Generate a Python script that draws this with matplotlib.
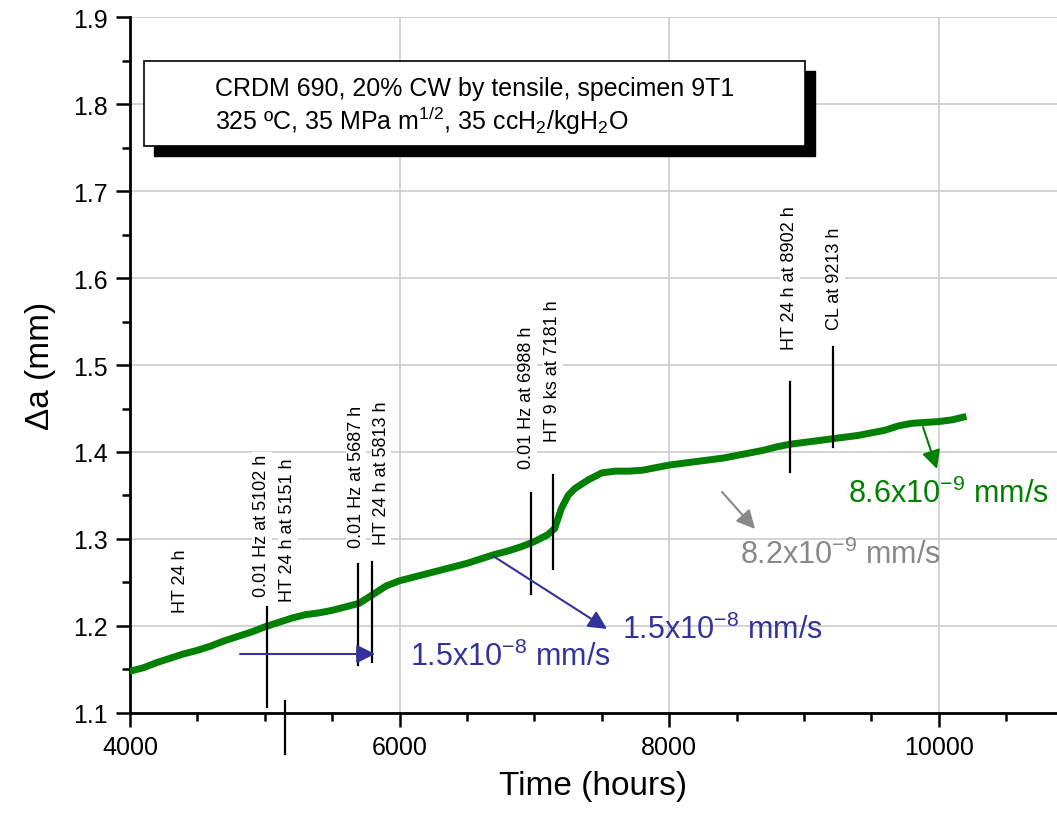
import matplotlib
matplotlib.use('Agg')
import matplotlib.pyplot as plt
from matplotlib.patches import Rectangle
from matplotlib.ticker import MultipleLocator

plt.rcParams['font.family'] = ['Liberation Sans', 'DejaVu Sans']
plt.rcParams['mathtext.fontset'] = 'custom'
plt.rcParams['mathtext.rm'] = 'Liberation Sans'
plt.rcParams['mathtext.it'] = 'Liberation Sans:italic'

# crack growth curve
time_h = [4000, 4100, 4200, 4300, 4400, 4500, 4600, 4700, 4800, 4900,
          5000, 5100, 5200, 5300, 5400, 5500, 5600, 5700, 5800, 5900,
          6000, 6100, 6200, 6300, 6400, 6500, 6600, 6700, 6800, 6900,
          7000, 7100, 7150, 7200, 7250, 7300, 7400, 7500, 7600, 7700,
          7800, 7900, 8000, 8100, 8200, 8300, 8400, 8500, 8600, 8700,
          8800, 8900, 9000, 9100, 9200, 9300, 9400, 9500, 9600, 9700,
          9800, 9900, 10000, 10100, 10180]
delta_a = [1.148, 1.152, 1.158, 1.163, 1.168, 1.172, 1.177, 1.183, 1.188, 1.193,
           1.199, 1.204, 1.209, 1.213, 1.215, 1.218, 1.222, 1.226, 1.236, 1.246,
           1.252, 1.256, 1.260, 1.264, 1.268, 1.272, 1.277, 1.282, 1.286, 1.291,
           1.297, 1.305, 1.312, 1.335, 1.350, 1.358, 1.368, 1.376, 1.378, 1.378,
           1.379, 1.382, 1.385, 1.387, 1.389, 1.391, 1.393, 1.396, 1.399, 1.402,
           1.406, 1.409, 1.411, 1.413, 1.415, 1.417, 1.419, 1.422, 1.425, 1.430,
           1.433, 1.434, 1.435, 1.437, 1.440]

# event markers: x, y bottom, y top
event_x = [5015, 5150, 5691, 5795, 6975, 7138, 8896, 9215]
event_y0 = [1.107, 1.053, 1.155, 1.159, 1.237, 1.266, 1.377, 1.406]
event_y1 = [1.222, 1.114, 1.271, 1.274, 1.353, 1.374, 1.480, 1.521]

# event labels
label_text = ['HT 24 h', '0.01 Hz at 5102 h', 'HT 24 h at 5151 h',
              '0.01 Hz at 5687 h', 'HT 24 h at 5813 h', '0.01 Hz at 6988 h',
              'HT 9 ks at 7181 h', 'HT 24 h at 8902 h', 'CL at 9213 h']
label_x = [4378, 4979, 5172, 5677, 5862, 6945, 7138, 8896, 9230]
label_y = [1.216, 1.2345, 1.229, 1.291, 1.294, 1.3816, 1.4126, 1.518, 1.541]

# growth-rate annotations
rate_text = ['1.5x10$^{\\mathregular{-8}}$ mm/s', '1.5x10$^{\\mathregular{-8}}$ mm/s',
             '8.2x10$^{\\mathregular{-9}}$ mm/s', '8.6x10$^{\\mathregular{-9}}$ mm/s']
rate_color = ['#333399', '#333399', '#888888', '#008000']
rate_tx = [6077, 7650, 8525, 9326]
rate_ty = [1.1655, 1.1966, 1.2828, 1.3529]
arrow_x0 = [4816, 6693, 8392, 9883]
arrow_y0 = [1.1678, 1.2805, 1.354, 1.4287]
arrow_x1 = [5818, 7539, 8637, 9987]
arrow_y1 = [1.1678, 1.1966, 1.3115, 1.3805]

fig = plt.figure(figsize=(10.57, 8.20), dpi=100)
ax = fig.add_axes([0.123, 0.1293, 0.877, 0.8487])

ax.plot(time_h, delta_a, color='#008000', lw=5, zorder=3)

for x, y0, y1 in zip(event_x, event_y0, event_y1):
    ax.plot([x, x], [y0, y1], color='black', lw=1.6, zorder=4, clip_on=False)

for t, x, y in zip(label_text, label_x, label_y):
    ax.text(x, y, t, rotation=90, ha='center', va='bottom', fontsize=13,
            zorder=5, bbox=dict(facecolor='white', edgecolor='none', pad=1))

for t, c, tx, ty, x0, y0, x1, y1 in zip(rate_text, rate_color, rate_tx, rate_ty,
                                        arrow_x0, arrow_y0, arrow_x1, arrow_y1):
    ax.annotate('', xy=(x1, y1), xytext=(x0, y0),
                arrowprops=dict(arrowstyle='-|>', color=c, lw=1.5,
                                mutation_scale=28, shrinkA=0, shrinkB=0),
                zorder=6)
    ax.text(tx, ty, t, color=c, fontsize=22, ha='left', va='center', zorder=6)

# header box with shadow
ax.add_patch(Rectangle((0.1457, 0.8085), 0.6254, 0.1037, transform=fig.transFigure,
                       facecolor='black', edgecolor='black', zorder=7, clip_on=False))
ax.add_patch(Rectangle((0.1362, 0.8207), 0.6254, 0.1037, transform=fig.transFigure,
                       facecolor='white', edgecolor='black', lw=1.2, zorder=8, clip_on=False))
fig.text(0.2034, 0.883, 'CRDM 690, 20% CW by tensile, specimen 9T1', fontsize=18, zorder=9)
fig.text(0.2034, 0.8415,
         '325 ºC, 35 MPa m$^{\\mathregular{1/2}}$, 35 ccH$_{\\mathregular{2}}$/kgH$_{\\mathregular{2}}$O',
         fontsize=18, zorder=9)

ax.set_xlim(4000, 10877)
ax.set_ylim(1.1, 1.9)
ax.xaxis.set_major_locator(MultipleLocator(2000))
ax.xaxis.set_minor_locator(MultipleLocator(500))
ax.yaxis.set_major_locator(MultipleLocator(0.1))
ax.yaxis.set_minor_locator(MultipleLocator(0.05))
ax.grid(True, which='major', color='#cccccc', lw=1.2, zorder=0)
ax.set_axisbelow(True)

for s in ['top', 'right']:
    ax.spines[s].set_visible(False)
for s in ['left', 'bottom']:
    ax.spines[s].set_linewidth(2)
ax.tick_params(which='major', direction='out', length=10, width=1.8, labelsize=18, pad=6)
ax.tick_params(which='minor', direction='out', length=6, width=1.8)
ax.set_xlabel('Time (hours)', fontsize=24, labelpad=8)
ax.set_ylabel('Δa (mm)', fontsize=24, labelpad=12)

fig.savefig('out.png', dpi=100)
